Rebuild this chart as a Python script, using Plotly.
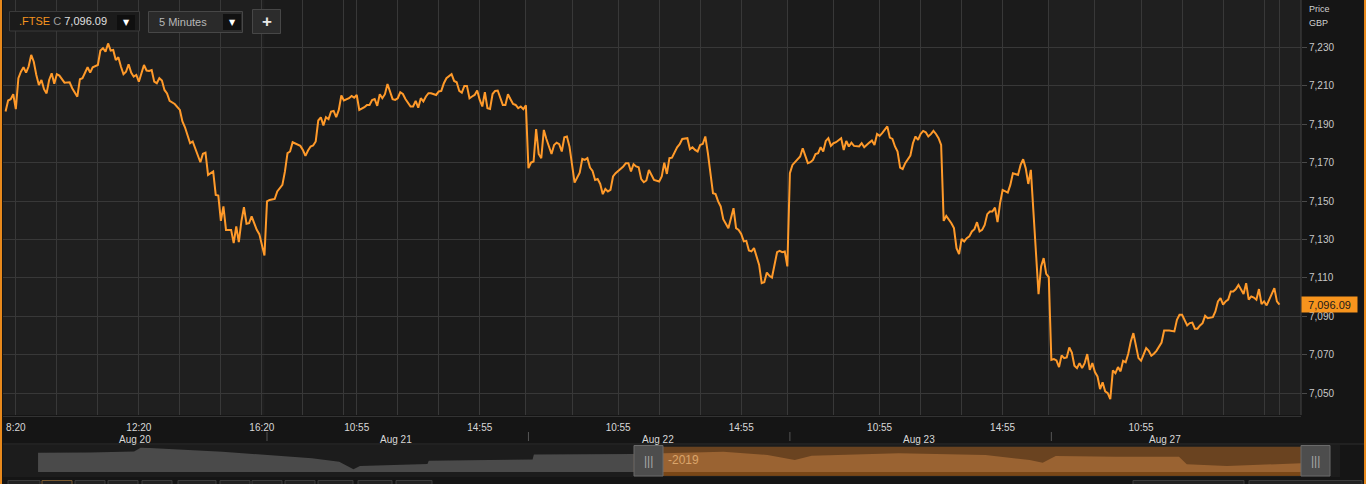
import plotly.graph_objects as go

# ---------------- data ----------------
# 5-minute bar number, counted over trading hours only (08:00-16:30, 102 bars/day) from 20 Aug 08:00
bar = [
    # Aug 20
    0, 1, 2, 3, 4, 5, 6, 7, 8, 9, 10, 11, 12, 13, 14, 15, 16, 17, 18, 19, 20, 21, 23, 25, 26, 28, 29, 30,
    32, 33, 34, 36, 37, 38, 39, 40, 41, 42, 43, 44, 45, 46, 47, 48, 49, 50, 51, 52, 54, 55, 56, 57, 58,
    59, 60, 61, 62, 63, 64, 66, 68, 69, 70, 72, 73, 75, 76, 77, 78, 79, 80, 81, 82, 83, 84, 85, 86, 88,
    89, 90, 91, 92, 93, 94, 95, 96, 97, 98, 99, 100, 101,
    # Aug 21
    102, 103, 105, 106, 108, 109, 110, 111, 112, 115, 116, 117, 118, 119, 120, 121, 122, 123, 124, 125,
    126, 127, 128, 129, 130, 131, 132, 134, 135, 136, 137, 138, 140, 141, 142, 143, 144, 145, 146, 147,
    148, 149, 151, 152, 153, 154, 155, 156, 158, 159, 160, 161, 162, 163, 164, 165, 166, 168, 169, 170,
    171, 172, 174, 175, 176, 177, 178, 179, 180, 181, 182, 183, 184, 185, 186, 187, 188, 189, 190, 191,
    192, 194, 195, 196, 197, 198, 199, 200, 201, 202, 203,
    # Aug 22
    204, 205, 206, 207, 208, 209, 210, 211, 213, 214, 215, 216, 217, 218, 219, 220, 221, 222, 224, 225,
    226, 227, 228, 229, 230, 231, 232, 233, 234, 235, 236, 237, 238, 240, 241, 242, 243, 244, 245, 246,
    247, 248, 249, 250, 251, 253, 255, 256, 257, 258, 259, 260, 262, 263, 264, 266, 267, 268, 269, 270,
    271, 272, 273, 274, 275, 276, 277, 278, 279, 280, 282, 283, 284, 285, 286, 287, 288, 289, 290, 291,
    292, 294, 295, 296, 297, 298, 299, 301, 302, 303, 304, 305,
    # Aug 23
    306, 307, 308, 310, 311, 312, 313, 314, 315, 316, 317, 318, 319, 320, 321, 322, 323, 324, 325, 326,
    327, 328, 329, 330, 331, 333, 334, 335, 337, 338, 339, 340, 341, 342, 344, 345, 346, 347, 348, 349,
    350, 351, 353, 354, 355, 356, 357, 358, 359, 360, 361, 362, 363, 364, 365, 366, 367, 368, 369, 370,
    371, 372, 373, 374, 375, 376, 377, 378, 379, 380, 381, 382, 383, 384, 385, 386, 387, 388, 389, 391,
    392, 393, 395, 396, 397, 398, 399, 400, 403, 404, 405, 406, 407,
    # Aug 27
    408, 409, 410, 411, 412, 413, 414, 415, 416, 417, 418, 419, 420, 421, 422, 423, 424, 425, 426, 427,
    428, 429, 430, 431, 432, 433, 434, 435, 436, 437, 438, 439, 440, 441, 442, 443, 444, 445, 446, 447,
    448, 449, 451, 452, 454, 456, 457, 458, 459, 461, 462, 463, 464, 465, 466, 467, 468, 469, 471, 472,
    473, 474, 475, 476, 477, 478, 479, 480, 481, 483, 484, 485, 486, 487, 488, 489, 490, 491, 492, 493,
    494, 495, 496, 497,
]
price = [
    # Aug 20
    7196.6, 7202.3, 7203.0, 7205.6, 7197.8, 7213.9, 7217.3, 7219.6, 7216.8, 7220.0, 7226.0, 7222.5, 7215.6,
    7210.4, 7213.0, 7208.2, 7206.0, 7213.0, 7216.5, 7211.0, 7216.0, 7215.3, 7211.6, 7211.8, 7208.7, 7204.3,
    7213.4, 7213.9, 7219.6, 7216.8, 7219.6, 7220.8, 7228.3, 7229.5, 7227.7, 7232.0, 7228.3, 7228.6, 7223.4,
    7224.8, 7220.0, 7216.0, 7217.3, 7221.2, 7216.8, 7214.7, 7215.6, 7212.1, 7220.8, 7217.9, 7217.7, 7218.2,
    7212.1, 7211.3, 7213.9, 7212.7, 7207.8, 7206.0, 7202.1, 7200.5, 7197.4, 7191.4, 7188.4, 7180.1, 7181.0,
    7174.0, 7170.2, 7174.6, 7175.2, 7163.6, 7164.5, 7165.4, 7153.2, 7152.9, 7139.7, 7147.2, 7135.0, 7135.0,
    7128.1, 7136.8, 7128.6, 7139.4, 7146.8, 7138.2, 7138.5, 7142.0, 7138.5, 7135.0, 7132.8, 7127.2, 7121.7,
    # Aug 21
    7149.8, 7150.6, 7151.1, 7155.0, 7158.4, 7165.4, 7174.9, 7175.8, 7180.6, 7178.7, 7176.6, 7173.5, 7176.3,
    7178.4, 7178.9, 7181.0, 7191.9, 7193.6, 7189.4, 7193.6, 7192.6, 7196.6, 7196.9, 7193.6, 7197.4, 7204.9,
    7202.3, 7203.5, 7204.7, 7203.8, 7205.2, 7197.4, 7198.8, 7200.0, 7200.0, 7202.6, 7203.1, 7199.5, 7205.6,
    7203.5, 7205.6, 7210.9, 7203.0, 7202.6, 7203.5, 7206.6, 7205.7, 7203.1, 7199.2, 7199.2, 7202.1, 7198.6,
    7203.5, 7201.8, 7204.4, 7206.1, 7206.1, 7205.2, 7207.0, 7207.3, 7211.3, 7213.9, 7216.0, 7212.5, 7211.8,
    7207.3, 7206.4, 7209.9, 7209.9, 7203.5, 7204.4, 7205.2, 7207.5, 7202.6, 7199.2, 7206.6, 7198.3, 7197.9,
    7205.7, 7207.3, 7207.5, 7200.0, 7200.0, 7205.6, 7203.0, 7200.5, 7200.0, 7198.3, 7199.2, 7197.8, 7199.8,
    # Aug 22
    7167.1, 7170.0, 7170.6, 7187.5, 7174.5, 7172.3, 7187.0, 7182.3, 7174.5, 7179.2, 7180.4, 7179.6, 7175.8,
    7183.2, 7183.6, 7178.4, 7168.0, 7159.6, 7164.8, 7171.9, 7171.4, 7172.3, 7167.4, 7165.7, 7161.0, 7161.5,
    7158.9, 7153.6, 7156.3, 7155.0, 7155.8, 7162.8, 7164.5, 7166.6, 7168.0, 7169.7, 7169.7, 7165.4, 7169.2,
    7168.0, 7167.6, 7161.4, 7159.8, 7160.7, 7166.2, 7161.0, 7160.2, 7162.8, 7170.0, 7164.1, 7172.3, 7172.6,
    7178.0, 7179.6, 7182.3, 7182.7, 7177.0, 7178.0, 7176.6, 7175.8, 7179.2, 7179.7, 7183.6, 7174.9, 7162.8,
    7154.1, 7153.6, 7149.8, 7147.2, 7140.6, 7135.9, 7140.6, 7146.3, 7135.9, 7135.0, 7132.9, 7129.0, 7129.3,
    7124.3, 7123.8, 7125.5, 7116.8, 7107.3, 7107.8, 7112.8, 7111.1, 7110.2, 7123.4, 7124.1, 7123.4, 7123.8,
    7116.0,
    # Aug 23
    7164.5, 7168.8, 7170.2, 7173.2, 7177.5, 7174.0, 7169.7, 7170.2, 7171.4, 7174.4, 7174.9, 7178.0, 7175.8,
    7181.3, 7182.7, 7178.7, 7180.1, 7180.6, 7181.8, 7182.7, 7176.6, 7181.3, 7178.4, 7180.4, 7178.7, 7178.4,
    7180.1, 7178.0, 7180.4, 7181.5, 7179.2, 7184.9, 7183.9, 7185.3, 7188.8, 7183.0, 7182.3, 7178.4, 7175.8,
    7167.4, 7166.6, 7169.7, 7173.7, 7180.1, 7183.6, 7181.8, 7184.9, 7186.5, 7185.8, 7183.6, 7184.8, 7186.5,
    7184.9, 7182.7, 7179.2, 7139.7, 7142.3, 7140.6, 7138.5, 7135.9, 7125.5, 7122.4, 7130.3, 7129.0, 7130.7,
    7131.6, 7134.2, 7135.4, 7139.0, 7134.2, 7135.0, 7137.6, 7143.2, 7144.6, 7144.6, 7146.6, 7139.0, 7148.9,
    7155.8, 7154.4, 7158.4, 7164.5, 7163.6, 7168.8, 7171.8, 7167.1, 7158.9, 7166.2, 7101.6, 7116.0, 7120.3,
    7112.1, 7110.4,
    # Aug 27
    7067.4, 7067.8, 7067.1, 7063.6, 7069.7, 7068.3, 7068.6, 7073.8, 7071.2, 7064.3, 7063.1, 7065.7, 7063.1,
    7065.7, 7070.4, 7062.2, 7065.7, 7061.0, 7058.8, 7052.2, 7055.7, 7051.0, 7050.1, 7047.0, 7061.9, 7060.5,
    7063.6, 7061.4, 7066.9, 7066.1, 7070.6, 7077.0, 7081.3, 7075.3, 7068.3, 7066.9, 7070.1, 7073.5, 7072.1,
    7069.5, 7070.6, 7072.1, 7076.4, 7082.7, 7082.7, 7082.2, 7088.2, 7090.8, 7090.8, 7085.3, 7086.5, 7086.8,
    7083.6, 7083.6, 7085.3, 7086.5, 7090.3, 7089.1, 7089.6, 7092.6, 7097.8, 7099.5, 7096.1, 7097.8, 7098.7,
    7103.0, 7103.0, 7104.2, 7106.4, 7101.6, 7107.3, 7098.7, 7100.4, 7099.8, 7098.7, 7104.2, 7096.4, 7097.8,
    7095.7, 7099.0, 7102.1, 7104.7, 7097.8, 7096.09,
]

day_names = ["Aug 20", "Aug 21", "Aug 22", "Aug 23", "Aug 27"]
BARS_PER_DAY = 102
grid_bars = [4, 20, 36, 52, 68, 84, 100, 116, 132, 137, 153, 169, 185, 203, 221, 239, 255, 271, 287,
             305, 323, 341, 357, 373, 389, 407, 425, 443, 459, 475, 491, 497]
time_label_bars = [4, 52, 100, 137, 185, 239, 287, 341, 389, 443]
time_label_text = ["8:20", "12:20", "16:20", "10:55", "14:55", "10:55", "14:55", "10:55", "14:55", "10:55"]
price_ticks = [7050, 7070, 7090, 7110, 7130, 7150, 7170, 7190, 7210, 7230]
last_price = price[-1]
ticker = ".FTSE"
interval = "5 Minutes"
currency = "GBP"
range_label = "-2019"

# navigator (overview strip): position along strip (0-100) and level
nav_hist_t = [2.7, 6.7, 10.1, 10.6, 11.3, 13.5, 16.9, 20.4, 23.8, 25.9, 27.0, 27.5, 30.6, 32.7, 32.8,
              36.7, 40.8, 40.9, 44.5, 48.6]
nav_hist_v = [7193, 7195, 7205, 7243, 7240, 7227, 7203, 7170, 7137, 7103, 7027, 7060, 7070, 7080, 7113,
              7120, 7125, 7175, 7180, 7180]
nav_sel_t = [48.6, 52.2, 55.5, 58.9, 61.0, 62.3, 69.0, 75.7, 79.1, 80.1, 81.1, 85.8, 90.6, 91.2, 94.3, 100]
nav_sel_v = [7180, 7193, 7203, 7170, 7120, 7163, 7187, 7170, 7120, 7093, 7160, 7153, 7153, 7077, 7060, 7087]

# ---------------- layout helpers ----------------
W, H = 1366, 484
ML, MR = 3, 65
PW = W - ML - MR
PLOT_BOTTOM = 415


def px(x):
    return (x - ML) / PW


def py(y):
    return (H - y) / H


ORANGE = "#ff9a2a"
TAG = "#f7941d"
GRID = "#383838"
PAPER = "#151515"
PLOT = "#1f1f1f"
FONT = "Liberation Sans, Arial, sans-serif"

fig = go.Figure()
fig.add_trace(go.Scatter(x=bar, y=price, mode="lines", line=dict(color=ORANGE, width=2),
                         hoverinfo="skip", xaxis="x", yaxis="y"))
fig.add_trace(go.Scatter(x=nav_hist_t, y=nav_hist_v, mode="lines", line=dict(width=0, color="#4a4a4a"),
                         fill="tozeroy", fillcolor="#4a4a4a", hoverinfo="skip", xaxis="x2", yaxis="y2"))
fig.add_trace(go.Scatter(x=nav_sel_t, y=nav_sel_v, mode="lines", line=dict(width=0, color="#9a6332"),
                         fill="tozeroy", fillcolor="#9a6332", hoverinfo="skip", xaxis="x2", yaxis="y2"))

ticktext = [time_label_text[time_label_bars.index(b)] if b in time_label_bars else "" for b in grid_bars]

shapes = []
annotations = []


def note(x, y, text, size, color, xanchor="center", family=FONT, **kw):
    annotations.append(dict(x=x, y=y, xref=kw.pop("xref", "paper"), yref=kw.pop("yref", "paper"), text=text,
                            showarrow=False, xanchor=xanchor, yanchor="middle",
                            font=dict(size=size, color=color, family=family), **kw))


# day bands (alternate days slightly darker)
day_starts = [d * BARS_PER_DAY for d in range(len(day_names))]
for i, d0 in enumerate(day_starts):
    if i % 2 == 1:
        shapes.append(dict(type="rect", xref="x", yref="paper", x0=d0 - 1, x1=d0 + BARS_PER_DAY - 1,
                           y0=py(PLOT_BOTTOM), y1=1, fillcolor="#1b1b1b", line=dict(width=0), layer="below"))

# day labels centred on each day's data, separators at day starts
for d, name in enumerate(day_names):
    bs = [b for b in bar if b // BARS_PER_DAY == d]
    note((min(bs) + max(bs)) / 2, py(439), name, 10, "#d8d8d8", xref="x")
    if d > 0:
        shapes.append(dict(type="line", xref="x", yref="paper", x0=min(bs), x1=min(bs), y0=py(432), y1=py(441),
                           line=dict(color="#555555", width=1)))

# axis separators
shapes.append(dict(type="line", xref="paper", yref="paper", x0=px(ML), x1=px(1301), y0=py(416.5), y1=py(416.5),
                   line=dict(color="#333333", width=1)))
shapes.append(dict(type="line", xref="paper", yref="paper", x0=px(1301), x1=px(1301), y0=py(0), y1=py(PLOT_BOTTOM),
                   line=dict(color="#444444", width=1)))
shapes.append(dict(type="line", xref="paper", yref="paper", x0=px(ML), x1=px(1364), y0=py(444), y1=py(444),
                   line=dict(color="#2e2e2e", width=1)))

# navigator background / selection
shapes.append(dict(type="rect", xref="paper", yref="paper", x0=px(ML), x1=px(1340), y0=py(477), y1=py(445),
                   fillcolor="#1c1c1c", line=dict(width=0), layer="below"))
shapes.append(dict(type="rect", xref="paper", yref="paper", x0=px(634), x1=px(1301), y0=py(475.7), y1=py(446.7),
                   fillcolor="#6a4320", line=dict(width=0), layer="below"))
shapes.append(dict(type="rect", xref="paper", yref="paper", x0=px(634), x1=px(1301), y0=py(475.7), y1=py(472),
                   fillcolor="#7a4717", line=dict(width=0)))
for hx0, hx1 in [(634, 663), (1301, 1330)]:
    shapes.append(dict(type="rect", xref="paper", yref="paper", x0=px(hx0), x1=px(hx1), y0=py(476), y1=py(445.5),
                       fillcolor="#4d4d4d", line=dict(color="#6a6a6a", width=1)))
    note(px((hx0 + hx1) / 2), py(461), "|||", 12, "#a8a8a8")
note(px(666), py(460), range_label, 12, "#dba56a", xanchor="left")

# bottom toolbar slivers
for bx0, bx1 in [(8, 40), (42, 72), (75, 105), (108, 138), (142, 172), (178, 216), (220, 250), (252, 282),
                 (285, 315), (318, 353), (358, 392), (396, 432), (1133, 1244), (1249, 1362)]:
    shapes.append(dict(type="rect", xref="paper", yref="paper", x0=px(bx0), x1=px(bx1), y0=py(492), y1=py(480.5),
                       fillcolor="#222222", line=dict(color="#7a5a30" if bx0 == 42 else "#3c3c3c", width=1)))

# outer orange borders
shapes.append(dict(type="rect", xref="paper", yref="paper", x0=px(0), x1=px(2), y0=0, y1=1,
                   fillcolor="#e8891c", line=dict(width=0)))
shapes.append(dict(type="rect", xref="paper", yref="paper", x0=px(1364), x1=px(1366), y0=0, y1=1,
                   fillcolor="#e8891c", line=dict(width=0)))

# header controls
shapes.append(dict(type="rect", xref="paper", yref="paper", x0=px(9.5), x1=px(139.5), y0=py(31), y1=py(11.5),
                   fillcolor="#1b1b1b", line=dict(color="#3a3a3a", width=1)))
shapes.append(dict(type="rect", xref="paper", yref="paper", x0=px(117), x1=px(135), y0=py(30), y1=py(15),
                   fillcolor="#0f0f0f", line=dict(width=0)))
shapes.append(dict(type="rect", xref="paper", yref="paper", x0=px(148.5), x1=px(242.5), y0=py(32.5), y1=py(11.5),
                   fillcolor="#2a2a2a", line=dict(color="#474747", width=1)))
shapes.append(dict(type="rect", xref="paper", yref="paper", x0=px(223), x1=px(241), y0=py(30), y1=py(14),
                   fillcolor="#111111", line=dict(width=0)))
shapes.append(dict(type="rect", xref="paper", yref="paper", x0=px(252.5), x1=px(280.5), y0=py(33.5), y1=py(9.5),
                   fillcolor="#2c2c2c", line=dict(color="#474747", width=1)))

note(px(17), py(21.5),
     f"<span style='color:{TAG}'>{ticker}</span> <span style='color:#9a9a9a'>C</span> "
     f"<span style='color:#e0e0e0'>{last_price:,.2f}</span>", 11, "#e0e0e0", xanchor="left")
note(px(126), py(22.5), "▼", 8, "#ffffff", family="DejaVu Sans")
note(px(157), py(22), interval, 11, "#b8b8b8", xanchor="left")
note(px(232), py(22.5), "▼", 8, "#ffffff", family="DejaVu Sans")
note(px(266.5), py(21), "<b>+</b>", 17, "#e8e8e8")

# right axis caption
note(px(1307), py(9), "Price", 9, "#d0d0d0", xanchor="left")
note(px(1307), py(23.5), currency, 9, "#d0d0d0", xanchor="left")

# last price tag
annotations.append(dict(x=1, xref="paper", y=last_price, yref="y", text=f"{last_price:,.2f}", showarrow=False,
                        xanchor="left", yanchor="middle", bgcolor=TAG, width=55, height=15, borderpad=0,
                        align="center", font=dict(size=11, color="#1a1a1a", family=FONT)))

fig.update_layout(
    width=W, height=H,
    margin=dict(l=ML, r=MR, t=0, b=0),
    paper_bgcolor=PAPER, plot_bgcolor=PLOT,
    showlegend=False, hovermode=False,
    xaxis=dict(domain=[0, 1], range=[-1.0, 505.4], tickmode="array", tickvals=grid_bars, ticktext=ticktext,
               showgrid=True, gridcolor=GRID, gridwidth=1, zeroline=False, showline=False,
               ticks="outside", ticklen=3, tickcolor=PAPER,
               tickfont=dict(size=10, color="#d8d8d8", family=FONT), anchor="y", fixedrange=True),
    yaxis=dict(domain=[py(PLOT_BOTTOM), 1], range=[7038.7, 7254.6], side="right", tickmode="array",
               tickvals=price_ticks, ticktext=[f"{v:,}" for v in price_ticks],
               showgrid=True, gridcolor=GRID, gridwidth=1, zeroline=False, showline=False,
               ticks="outside", ticklen=5, tickcolor="#4a4a4a",
               tickfont=dict(size=10, color="#c8c8c8", family=FONT), anchor="x", fixedrange=True),
    xaxis2=dict(domain=[0, 1], range=[0, 100], visible=False, anchor="y2"),
    yaxis2=dict(domain=[py(472), py(446.7)], range=[7000, 7253], visible=False, anchor="x2"),
    shapes=shapes,
    annotations=annotations,
)

fig.write_html("out.html", config={"displayModeBar": False},
               post_script="document.body.style.margin='0px';document.body.style.overflow='hidden';")
